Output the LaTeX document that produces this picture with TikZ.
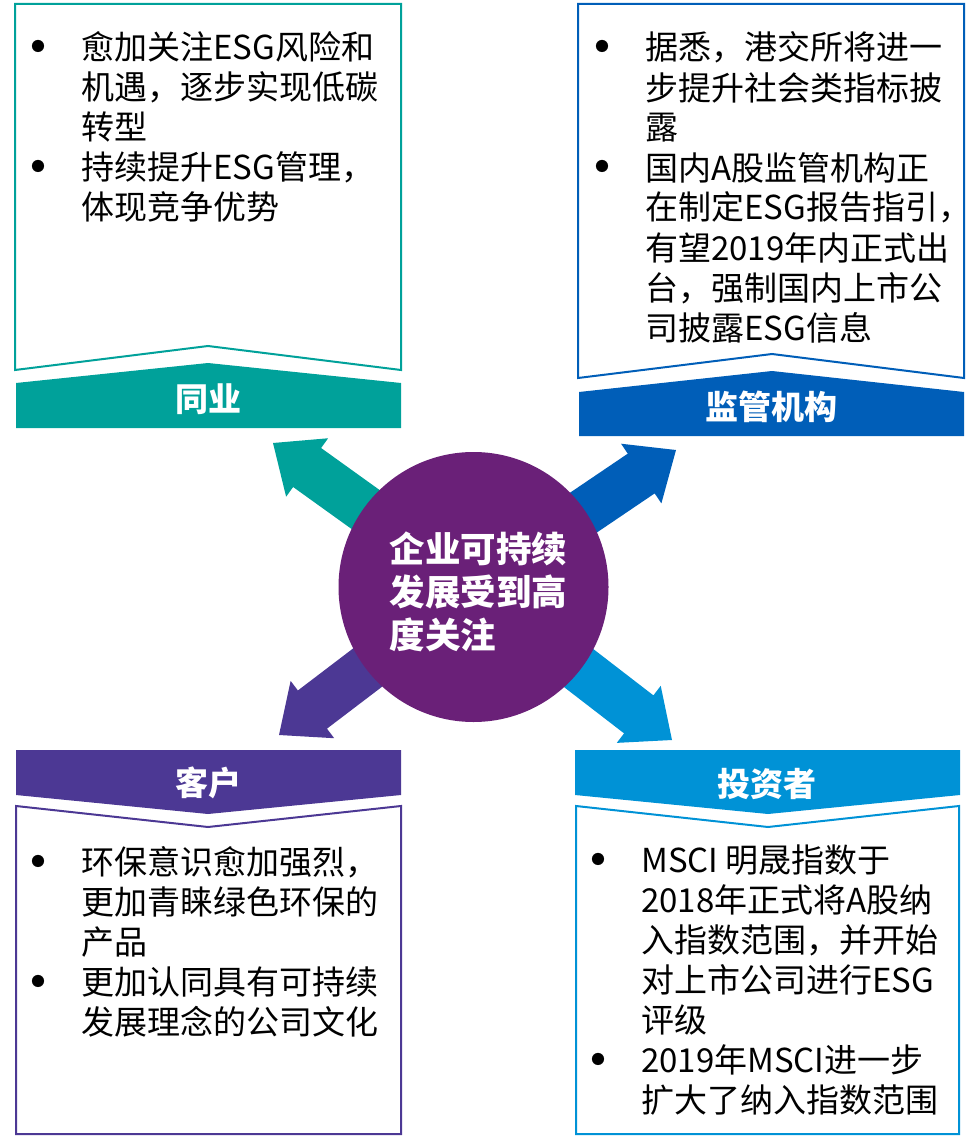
\documentclass[tikz,border=0pt]{standalone}
\usepackage{fontspec}
\setmainfont{Noto Sans CJK SC}
\usepackage{tikz}
\usetikzlibrary{positioning,calc}
\usepackage{xcolor}

\definecolor{peerteal}{RGB}{0,161,154}
\definecolor{regblue}{RGB}{0,94,184}
\definecolor{clientpurple}{RGB}{76,56,148}
\definecolor{invblue}{RGB}{0,146,214}
\definecolor{hubpurple}{RGB}{106,32,120}

% bullet and hanging indent for the lists
\newcommand{\blt}{\makebox[0pt]{\raisebox{-9pt}{\fontsize{58}{40}\selectfont•}}\hspace*{43pt}}
\newcommand{\ind}{\hspace*{43pt}}

% wide arrow from #1 to tip #2
\newcommand{\fatarrow}[3]{%
  \coordinate (fa-b) at ($(#2)!42pt!(#1)$);
  \fill[#3] ($(#1)!24pt!90:(#2)$) -- ($(fa-b)!24pt!90:(#2)$) -- ($(fa-b)!36pt!90:(#2)$) -- (#2)
    -- ($(fa-b)!36pt!-90:(#2)$) -- ($(fa-b)!24pt!-90:(#2)$) -- ($(#1)!24pt!-90:(#2)$) -- cycle;
}

\tikzset{
  boxline/.style={line width=2pt},
  bandtitle/.style={text=white, font=\fontsize{33}{38}\selectfont\bfseries, inner sep=0pt},
  % base anchor sits on the last line
  listtext/.style={font=\fontsize{33}{40}\selectfont, align=left, inner sep=0pt, anchor=base west, text=black},
}

\begin{document}
\begin{tikzpicture}[x=1pt,y=-1pt]
\useasboundingbox (0,0) rectangle (979,1139);

% arrows out of the centre
\coordinate (hubc) at (473.5,587);
\coordinate (peertip) at (273,443);
\coordinate (regtip) at (676,450);
\coordinate (clienttip) at (279,735);
\coordinate (invtip) at (672,740);
\fatarrow{hubc}{peertip}{peerteal}
\fatarrow{hubc}{regtip}{regblue}
\fatarrow{hubc}{clienttip}{clientpurple}
\fatarrow{hubc}{invtip}{invblue}

\node[circle, fill=hubpurple, minimum size=270pt, inner sep=0pt] (hub) at (hubc) {};
\node[text=white, align=left, inner sep=0pt, font=\fontsize{35.5}{43}\selectfont\bfseries]
  (hubtext) at ([xshift=5pt,yshift=-5pt]hub.center) {企业可持续\\发展受到高\\度关注};

% peers
\draw[peerteal, boxline] (15,4) -- (401,4) -- (401,370) -- (208,346) -- (15,370) -- cycle;
\fill[peerteal] (16,383) -- (208,363) -- (401,383) -- (401,428) -- (16,428) -- cycle;
\node[bandtitle] (peer) at (208,399) {同业};
\node[listtext] (peerlist) at (38,220) {\blt 愈加关注ESG风险和\\ \ind 机遇，逐步实现低碳\\ \ind 转型\\
  \blt 持续提升ESG管理，\\ \ind 体现竞争优势};

% regulators
\draw[regblue, boxline] (578,4) -- (964,4) -- (964,378) -- (772,354) -- (578,378) -- cycle;
\fill[regblue] (579,392) -- (772,371) -- (964,392) -- (964,436) -- (579,436) -- cycle;
\node[bandtitle] (regulator) at (771,407) {监管机构};
\node[listtext] (reglist) at (602,340) {\blt 据悉，港交所将进一\\ \ind 步提升社会类指标披\\ \ind 露\\
  \blt 国内A股监管机构正\\ \ind 在制定ESG报告指引，\\ \ind 有望2019年内正式出\\ \ind 台，强制国内上市公\\ \ind 司披露ESG信息};

% clients
\fill[clientpurple] (16,750) -- (401,750) -- (401,795) -- (208,814) -- (16,795) -- cycle;
\draw[clientpurple, boxline] (16,806) -- (208,827) -- (401,806) -- (401,1134) -- (16,1134) -- cycle;
\node[bandtitle] (client) at (208,783) {客户};
\node[listtext] (clientlist) at (38,1034) {\blt 环保意识愈加强烈，\\ \ind 更加青睐绿色环保的\\ \ind 产品\\
  \blt 更加认同具有可持续\\ \ind 发展理念的公司文化};

% investors
\fill[invblue] (575,750) -- (960,750) -- (960,795) -- (768,814) -- (575,795) -- cycle;
\draw[invblue, boxline] (576,806) -- (768,827) -- (959,806) -- (959,1134) -- (576,1134) -- cycle;
\node[bandtitle] (investor) at (767,784) {投资者};
\node[listtext] (invlist) at (598,1112) {\blt MSCI 明晟指数于\\ \ind 2018年正式将A股纳\\ \ind 入指数范围，并开始\\
  \ind 对上市公司进行ESG\\ \ind 评级\\ \blt 2019年MSCI进一步\\ \ind 扩大了纳入指数范围};
\end{tikzpicture}
\end{document}
